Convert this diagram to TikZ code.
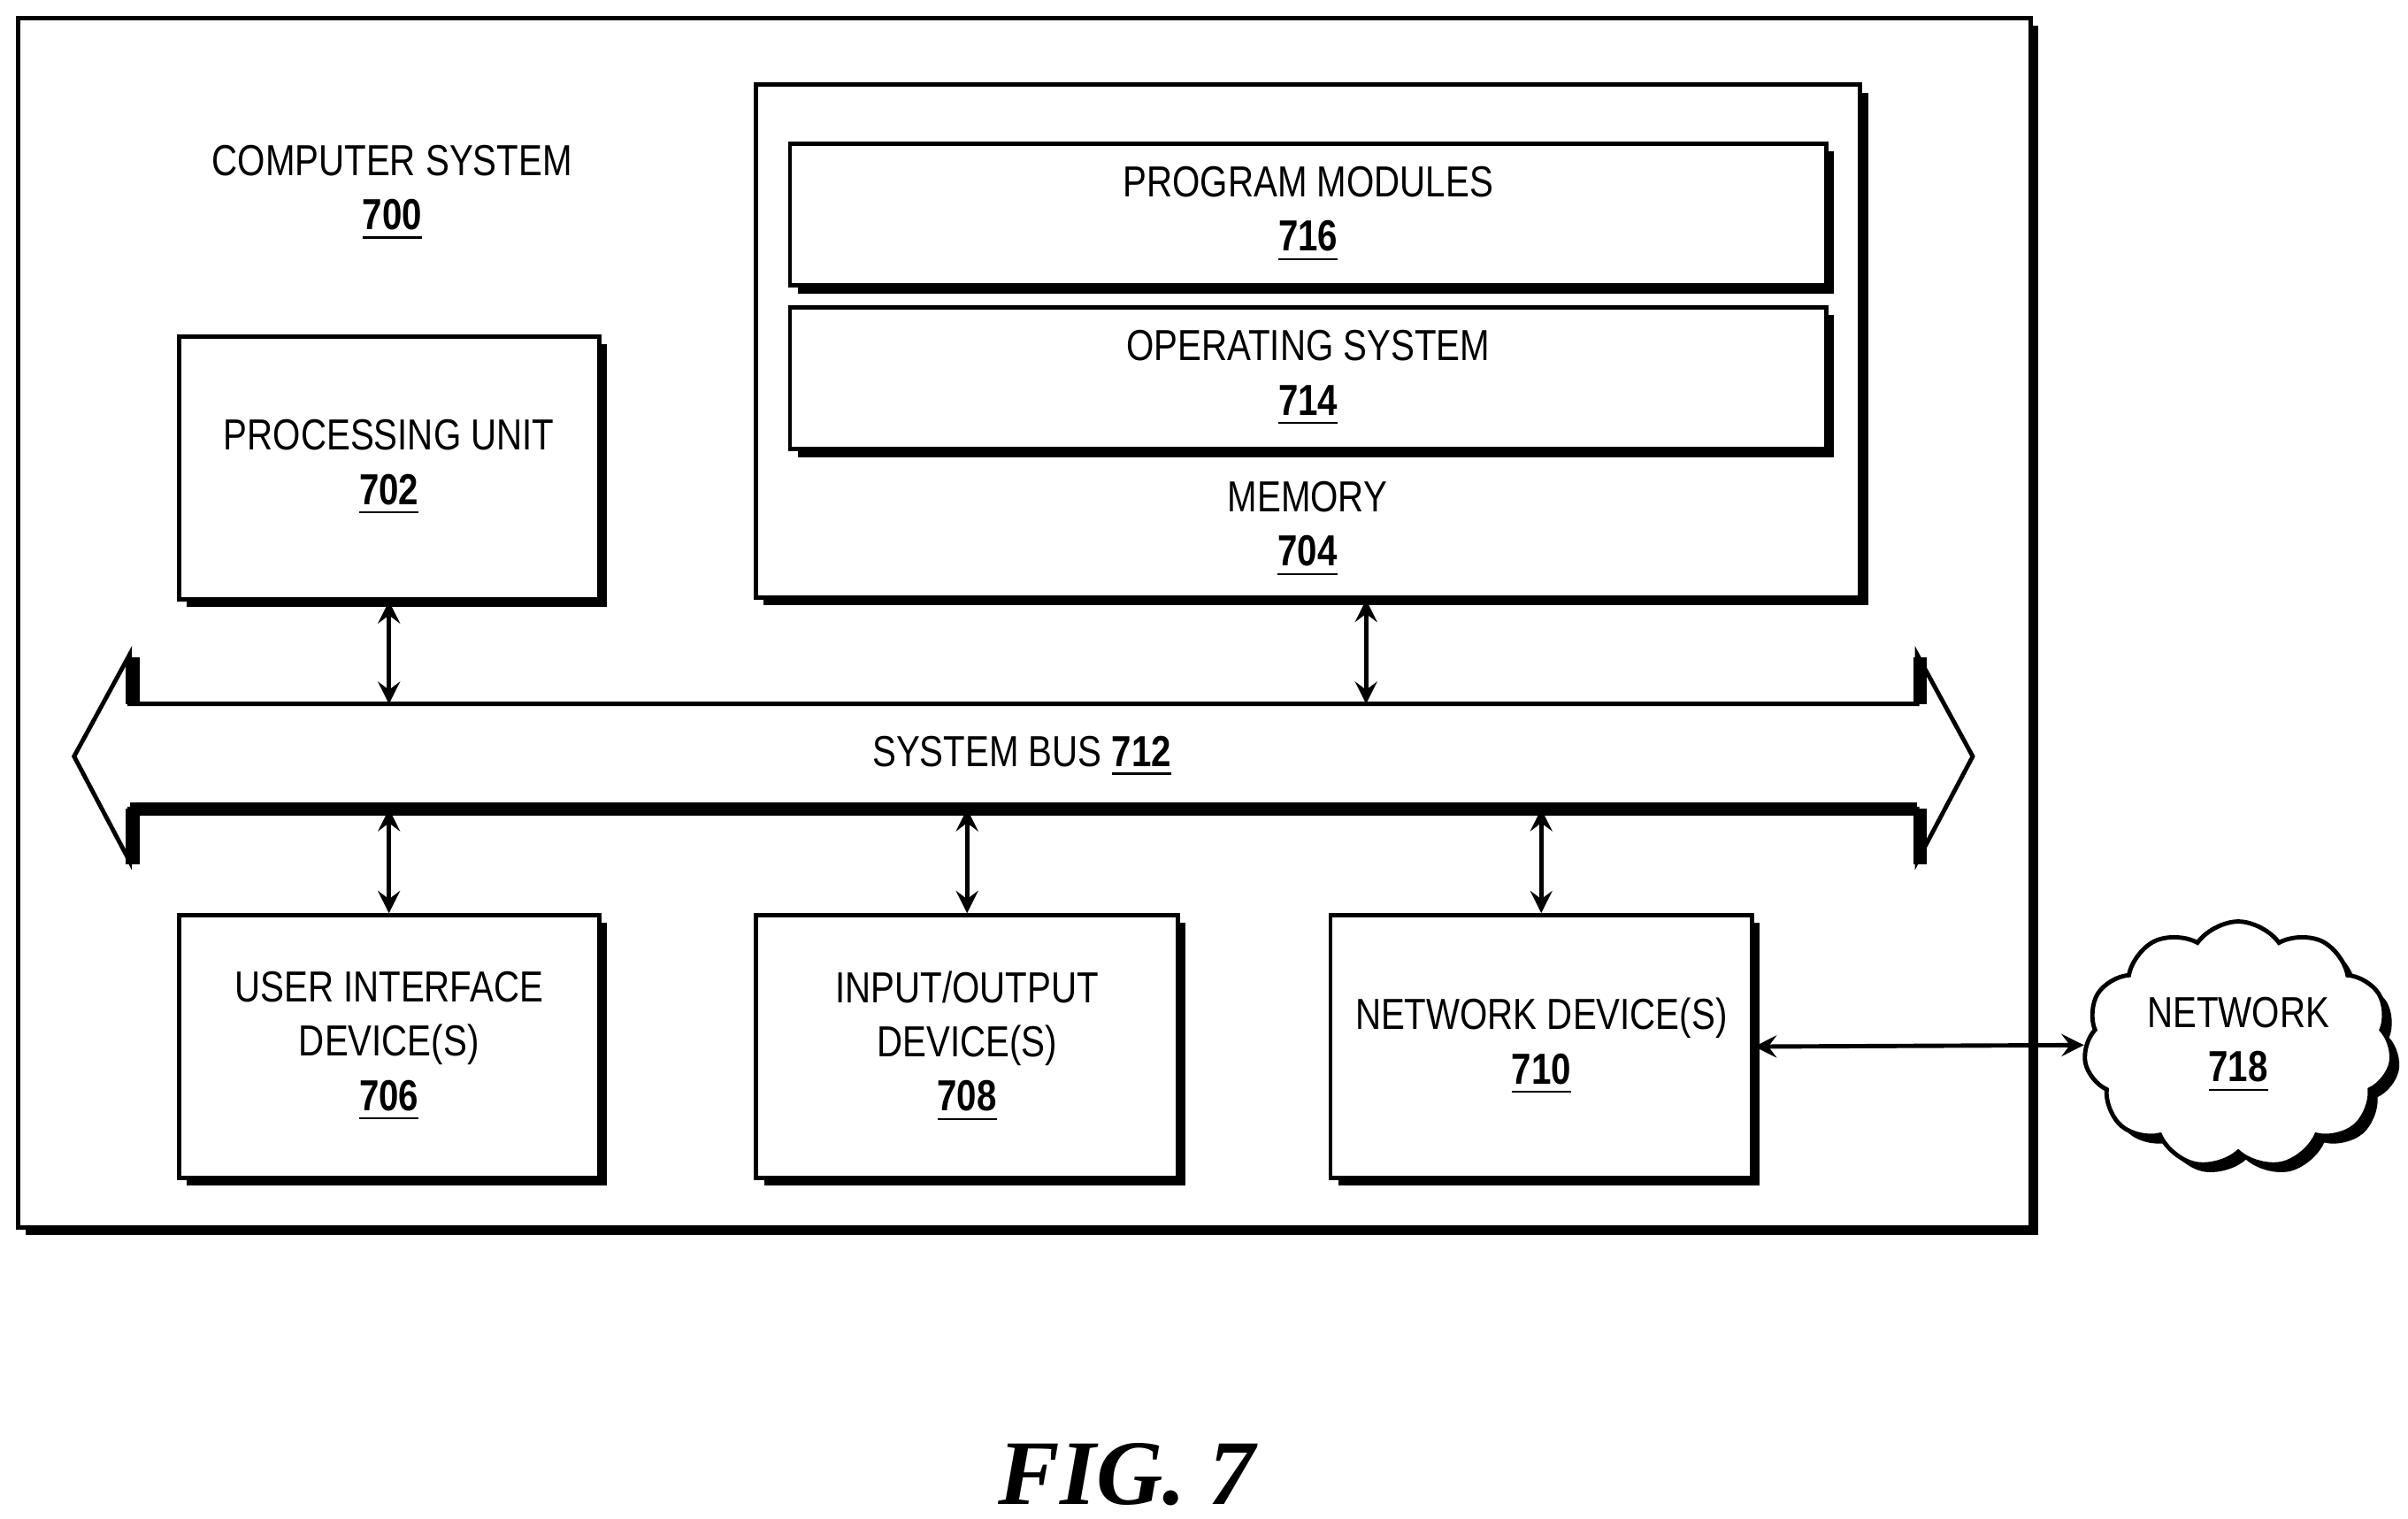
\documentclass[tikz,border=0pt]{standalone}
\usepackage{fontspec}
\setmainfont{Liberation Sans}[FakeStretch=0.82]
\newfontfamily\figfont{Liberation Serif}
\usetikzlibrary{positioning,shapes.symbols,shadows}
\newcommand{\refnum}[1]{\underline{\textbf{#1}}}
\begin{document}
\begin{tikzpicture}[x=0.01cm,y=-0.01cm,font=\fontsize{8pt}{10pt}\selectfont]
    \tikzstyle{block} = [rectangle, draw, thick, fill=white, align=center, inner sep=0pt,
        drop shadow={shadow xshift=0.05cm, shadow yshift=-0.05cm, fill=black, opacity=1}]
    \tikzstyle{arrow} = [thick,<->,>=stealth]
    \useasboundingbox (0,0) rectangle (1560,984);
    % boxes
    \node (cs) [block, minimum width=13.03cm, minimum height=7.83cm] at (663.5,403.5) {};
    \node (cslabel) [align=center] at (254,125) {COMPUTER SYSTEM\\\refnum{700}};
    \node (mem) [block, minimum width=7.15cm, minimum height=3.32cm] at (847.5,221) {};
    \node (pm) [block, minimum width=6.71cm, minimum height=0.92cm] at (847.5,139) {PROGRAM MODULES\\\refnum{716}};
    \node (os) [block, minimum width=6.71cm, minimum height=0.92cm] at (847.5,245) {OPERATING SYSTEM\\\refnum{714}};
    \node (memlabel) [align=center] at (847,343) {MEMORY\\\refnum{704}};
    \node (pu) [block, minimum width=2.72cm, minimum height=1.70cm] at (252,303) {PROCESSING UNIT\\\refnum{702}};
    \node (ui) [block, minimum width=2.72cm, minimum height=1.70cm] at (252,678) {USER INTERFACE\\DEVICE(S)\\\refnum{706}};
    \node (io) [block, minimum width=2.73cm, minimum height=1.70cm] at (626.5,678) {INPUT/OUTPUT\\DEVICE(S)\\\refnum{708}};
    \node (nd) [block, minimum width=2.73cm, minimum height=1.70cm] at (998.5,678) {NETWORK DEVICE(S)\\\refnum{710}};
    \node (net) [cloud, draw, thick, fill=white, cloud puffs=11, cloud puff arc=110, aspect=1.25,
        minimum width=2.0cm, minimum height=1.6cm, align=center, inner sep=0pt,
        drop shadow={shadow xshift=0.05cm, shadow yshift=-0.05cm, fill=black, opacity=1}] at (1450,677) {NETWORK\\\refnum{718}};
    % system bus
    \draw [thick, fill=white] (48,490) -- (84,424) -- (84,456) -- (1242,456) -- (1242,424) -- (1278,490)
        -- (1242,558) -- (1242,524) -- (84,524) -- (84,558) -- cycle;
    \draw [line width=2.5pt] (86,426) -- (86,456) (1244,456) -- (1244,426);
    \draw [line width=2.5pt] (84,524) -- (1242,524) (86,524) -- (86,560) (1244,524) -- (1244,560);
    \node (bus) at (662,490) {SYSTEM BUS \refnum{712}};
    \coordinate (bustop) at (0,456);
    \coordinate (busbot) at (0,524);
    % connectors
    \draw [arrow] (pu.south) -- (pu.south |- bustop);
    \draw [arrow] (mem.south -| 885,0) -- (885,456);
    \draw [arrow] (ui.north) -- (ui.north |- busbot);
    \draw [arrow] (io.north) -- (io.north |- busbot);
    \draw [arrow] (nd.north) -- (nd.north |- busbot);
    \draw [arrow] (nd.east) -- (net.west);
    \node (fig) at (730,955) {\figfont\fontsize{17pt}{20pt}\selectfont\bfseries\itshape FIG. 7};
\end{tikzpicture}
\end{document}
